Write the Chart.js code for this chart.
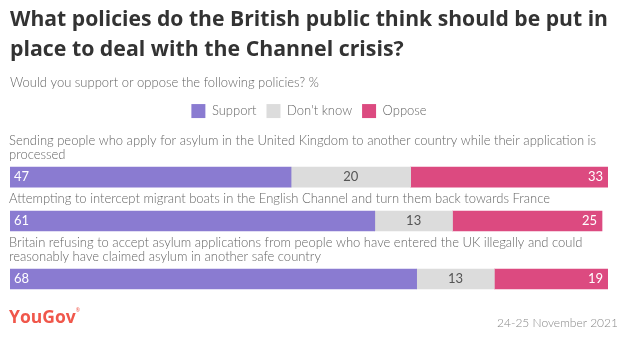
<!DOCTYPE html>
<html>
<head>
<meta charset="utf-8">
<script src="https://cdn.jsdelivr.net/npm/chart.js@4.4.0/dist/chart.umd.min.js"></script>
<style>
    html, body { margin: 0; padding: 0; background: #fff; }
    #wrap { width: 631px; height: 345px; position: relative; }
</style>
</head>
<body>
<div id="wrap"><canvas id="chart"></canvas></div>
<script>
// data
const categories = [
    ['Sending people who apply for asylum in the United Kingdom to another country while their application is', 'processed'],
    ['Attempting to intercept migrant boats in the English Channel and turn them back towards France'],
    ['Britain refusing to accept asylum applications from people who have entered the UK illegally and could', 'reasonably have claimed asylum in another safe country']
];
const seriesNames = ['Support', "Don't know", 'Oppose'];
const support = [47, 61, 68];
const dontKnow = [20, 13, 13];
const oppose = [33, 25, 19];

const colors = ['#8a7bd1', '#dcdcdc', '#dc4a80'];
const valueColors = ['#ffffff', '#555555', '#ffffff'];

// vertical layout: each row is its wrapped label, then the bar
const LINE = 14, GAP = 5, BAR = 20, START = 6;
const rowPos = [];
let acc = START;
categories.forEach(lines => {
    rowPos.push(acc + lines.length * LINE + GAP + BAR / 2);
    acc += lines.length * LINE + GAP + BAR + GAP;
});
const yMax = acc;

const makeSet = (name, values, i) => ({
    label: name,
    data: values.map((v, k) => ({ x: v, y: rowPos[k] })),
    backgroundColor: colors[i],
    borderWidth: 0,
    barThickness: BAR
});

const annotate = {
    id: 'annotate',
    afterDatasetsDraw(chart) {
        const { ctx } = chart;
        const xs = chart.scales.x, ys = chart.scales.y;
        ctx.save();
        ctx.textBaseline = 'middle';

        // question labels above the bars
        ctx.font = '300 13px Lato';
        ctx.fillStyle = '#666';
        ctx.textAlign = 'left';
        categories.forEach((lines, i) => {
            const barTop = ys.getPixelForValue(rowPos[i]) - BAR / 2;
            lines.forEach((s, k) => {
                ctx.fillText(s, xs.left - 1, barTop - GAP - (lines.length - k - 0.5) * LINE);
            });
        });

        // value labels inside the bars
        ctx.font = '400 13px Lato';
        chart.data.datasets.forEach((ds, di) => {
            const meta = chart.getDatasetMeta(di);
            meta.data.forEach((bar, i) => {
                const p = bar.getProps(['x', 'y', 'base'], true);
                const l = Math.min(p.x, p.base), r = Math.max(p.x, p.base);
                ctx.fillStyle = valueColors[di];
                if (di === 0) {
                    ctx.textAlign = 'left';
                    ctx.fillText(ds.data[i].x, l + 4, p.y);
                } else if (di === 2) {
                    ctx.textAlign = 'right';
                    ctx.fillText(ds.data[i].x, r - 5, p.y);
                } else {
                    ctx.textAlign = 'center';
                    ctx.fillText(ds.data[i].x, (l + r) / 2, p.y);
                }
            });
        });

        // footer
        ctx.textAlign = 'left';
        ctx.font = 'bold 17.5px "Open Sans"';
        ctx.fillStyle = '#f0574b';
        ctx.fillText('YouGov', 9, 318);
        const w = ctx.measureText('YouGov').width;
        ctx.font = '5px "Open Sans"';
        ctx.fillText('®', 9 + w, 311);

        ctx.font = '300 12px Lato';
        ctx.fillStyle = '#888';
        ctx.textAlign = 'right';
        ctx.fillText('24-25 November 2021', 618, 323);
        ctx.restore();
    }
};

new Chart(document.getElementById('chart'), {
    type: 'bar',
    data: {
        datasets: [
            makeSet(seriesNames[0], support, 0),
            makeSet(seriesNames[1], dontKnow, 1),
            makeSet(seriesNames[2], oppose, 2)
        ]
    },
    options: {
        indexAxis: 'y',
        responsive: true,
        maintainAspectRatio: false,
        animation: false,
        layout: { padding: { left: 10, right: 23, top: 0, bottom: 51 } },
        scales: {
            x: { type: 'linear', stacked: true, min: 0, max: 100, display: false },
            y: { type: 'linear', stacked: true, min: 0, max: yMax, reverse: true, offset: false, display: false }
        },
        plugins: {
            title: {
                display: true,
                align: 'start',
                text: ['What policies do the British public think should be put in', 'place to deal with the Channel crisis?'],
                color: '#333',
                font: { family: 'Open Sans', size: 21.3, weight: 'bold', lineHeight: 1.41 },
                padding: { top: 5, bottom: 10 }
            },
            subtitle: {
                display: true,
                align: 'start',
                text: 'Would you support or oppose the following policies? %',
                color: '#666',
                font: { family: 'Lato', size: 13, weight: '300', lineHeight: 16 / 13 },
                padding: { top: 0, bottom: 3 }
            },
            legend: {
                display: true,
                position: 'top',
                labels: {
                    boxWidth: 14,
                    boxHeight: 14,
                    padding: 10,
                    color: '#666',
                    font: { family: 'Lato', size: 13, weight: '300' }
                }
            },
            tooltip: { enabled: false }
        }
    },
    plugins: [annotate]
});
</script>
</body>
</html>
